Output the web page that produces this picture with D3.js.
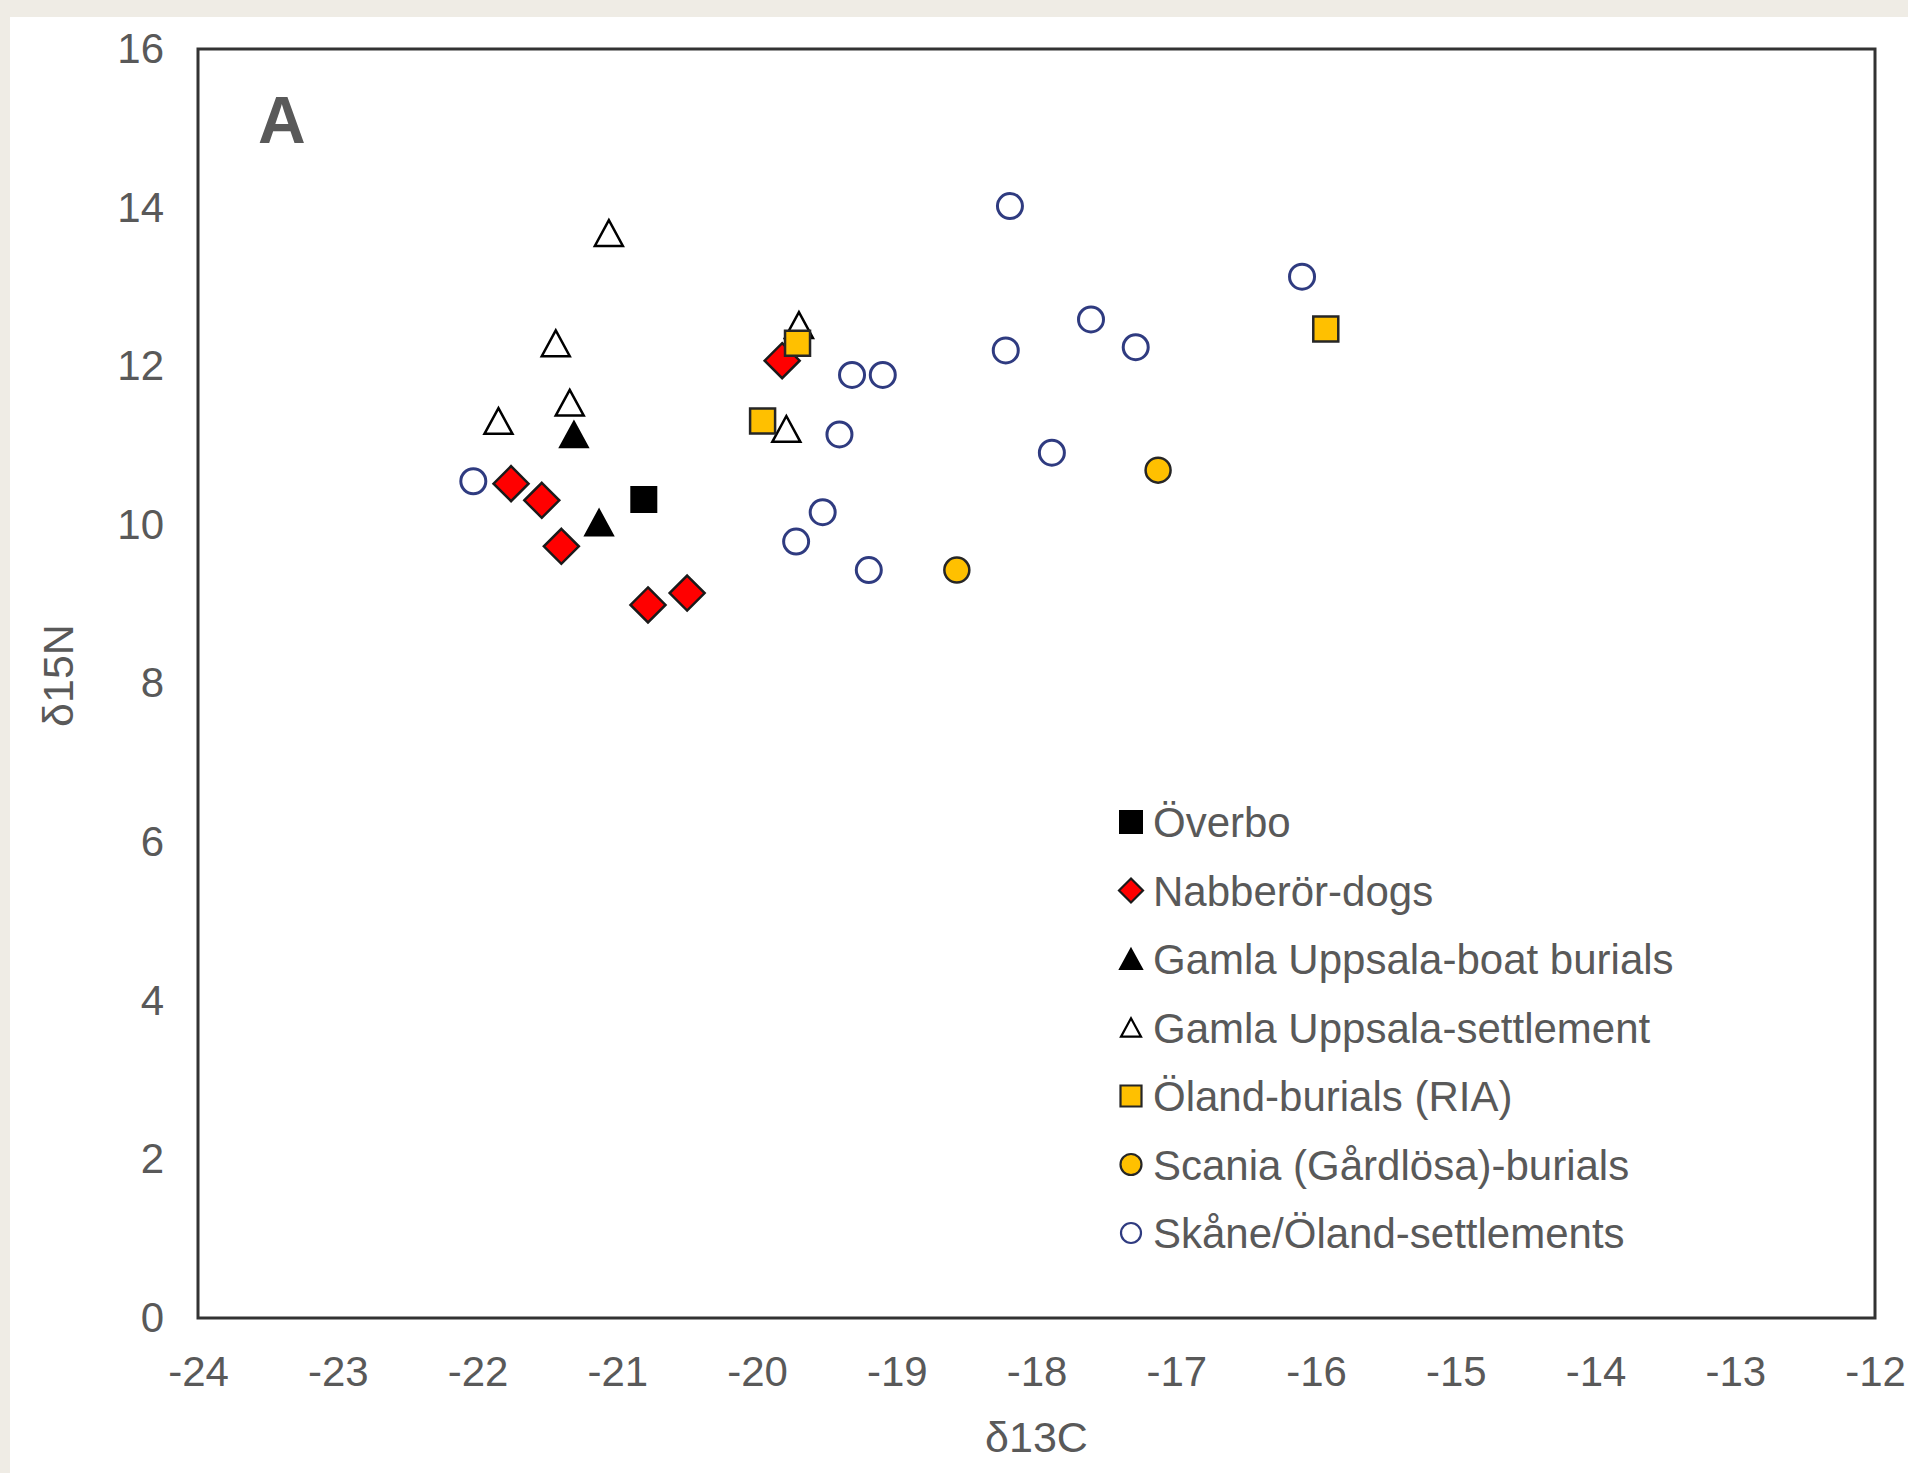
<!DOCTYPE html>
<html>
<head>
<meta charset="utf-8">
<script src="https://cdn.jsdelivr.net/npm/d3@7"></script>
<style>
    body { margin: 0; background: #efece5; }
    svg { display: block; }
    text { font-family: 'Liberation Sans', Arial, sans-serif; }
</style>
</head>
<body>
<svg id="chart"></svg>
<script>
'use strict';

// delta13C / delta15N pairs per group
const overbo = [[-20.81, 10.32]];
const nabberorDogs = [
    [-21.76, 10.52], [-21.54, 10.31], [-21.40, 9.73],
    [-20.78, 8.99], [-20.50, 9.14], [-19.82, 12.07]
];
const gamlaBoat = [[-21.31, 11.14], [-21.13, 10.03]];
const gamlaSettlement = [
    [-21.06, 13.68], [-21.44, 12.29], [-21.34, 11.54],
    [-21.85, 11.31], [-19.70, 12.52], [-19.79, 11.21]
];
const olandBurials = [[-19.71, 12.29], [-19.96, 11.31], [-15.93, 12.47]];
const scaniaBurials = [[-18.57, 9.43], [-17.13, 10.69]];
const skaneSettlements = [
    [-22.03, 10.55], [-18.19, 14.02], [-16.10, 13.13], [-17.61, 12.59],
    [-17.29, 12.24], [-18.22, 12.20], [-19.32, 11.89], [-19.10, 11.89],
    [-19.41, 11.14], [-17.89, 10.91], [-19.53, 10.16], [-19.72, 9.79],
    [-19.20, 9.43]
];

const seriesNames = [
    'Överbo',
    'Nabberör-dogs',
    'Gamla Uppsala-boat burials',
    'Gamla Uppsala-settlement',
    'Öland-burials (RIA)',
    'Scania (Gårdlösa)-burials',
    'Skåne/Öland-settlements'
];
const xTicks = [-24, -23, -22, -21, -20, -19, -18, -17, -16, -15, -14, -13, -12];
const yTicks = [0, 2, 4, 6, 8, 10, 12, 14, 16];

(function () {
    const width = 1908;
    const height = 1473;
    const plot = { left: 198, right: 1875, top: 49, bottom: 1318 };
    const textColor = '#595959';

    // custom marker shapes, size = bounding box width
    const square = {
        draw(ctx, s) {
            ctx.rect(-s / 2, -s / 2, s, s);
        }
    };
    const diamond = {
        draw(ctx, s) {
            ctx.moveTo(0, -s / 2);
            ctx.lineTo(s / 2, 0);
            ctx.lineTo(0, s / 2);
            ctx.lineTo(-s / 2, 0);
            ctx.closePath();
        }
    };
    const triangle = {
        draw(ctx, s) {
            const h = s * 0.92;
            ctx.moveTo(0, -h / 2);
            ctx.lineTo(s / 2, h / 2);
            ctx.lineTo(-s / 2, h / 2);
            ctx.closePath();
        }
    };
    const circle = {
        draw(ctx, s) {
            ctx.moveTo(s / 2, 0);
            ctx.arc(0, 0, s / 2, 0, Math.PI * 2);
        }
    };

    const series = [
        { data: overbo, type: square, size: 25, legendSize: 22, fill: '#000000', stroke: '#000000', sw: 2 },
        { data: nabberorDogs, type: diamond, size: 35, legendSize: 24, fill: '#ff0000', stroke: '#1a1a1a', sw: 2.5 },
        { data: gamlaBoat, type: triangle, size: 28, legendSize: 22, fill: '#000000', stroke: '#000000', sw: 2 },
        { data: gamlaSettlement, type: triangle, size: 28, legendSize: 20, fill: '#ffffff', stroke: '#000000', sw: 2.5 },
        { data: olandBurials, type: square, size: 25, legendSize: 21, fill: '#ffc000', stroke: '#262626', sw: 2.5 },
        { data: scaniaBurials, type: circle, size: 25, legendSize: 21, fill: '#ffc000', stroke: '#262626', sw: 2.5 },
        { data: skaneSettlements, type: circle, size: 25, legendSize: 20, fill: '#ffffff', stroke: '#2f3b80', sw: 3 }
    ];
    series.forEach((s, i) => { s.name = seriesNames[i]; });

    const svg = d3.select('#chart')
        .attr('width', width)
        .attr('height', height);

    svg.append('rect')
        .attr('x', 10)
        .attr('y', 17)
        .attr('width', width - 10)
        .attr('height', height - 17)
        .attr('fill', '#ffffff');

    const x = d3.scaleLinear()
        .domain([-24, -12])
        .range([plot.left, plot.right]);

    const y = d3.scaleLinear()
        .domain([0, 16])
        .range([plot.bottom, plot.top]);

    const xAxis = svg.append('g')
        .attr('transform', 'translate(0,' + plot.bottom + ')')
        .call(d3.axisBottom(x)
            .tickValues(xTicks)
            .tickSize(0)
            .tickPadding(38)
            .tickFormat(d => String(d)));

    const yAxis = svg.append('g')
        .attr('transform', 'translate(' + plot.left + ',0)')
        .call(d3.axisLeft(y)
            .tickValues(yTicks)
            .tickSize(0)
            .tickPadding(34)
            .tickFormat(d => String(d)));

    [xAxis, yAxis].forEach(g => {
        g.select('.domain').remove();
        g.selectAll('text')
            .attr('fill', textColor)
            .attr('font-size', '42px');
    });

    // plot frame
    svg.append('rect')
        .attr('x', plot.left)
        .attr('y', plot.top)
        .attr('width', plot.right - plot.left)
        .attr('height', plot.bottom - plot.top)
        .attr('fill', 'none')
        .attr('stroke', '#333333')
        .attr('stroke-width', 3);

    svg.append('text')
        .attr('x', (plot.left + plot.right) / 2)
        .attr('y', 1452)
        .attr('text-anchor', 'middle')
        .attr('fill', textColor)
        .attr('font-size', '43px')
        .text('δ13C');

    svg.append('text')
        .attr('transform', 'translate(73,' + ((plot.top + plot.bottom) / 2 - 8) + ') rotate(-90)')
        .attr('text-anchor', 'middle')
        .attr('fill', textColor)
        .attr('font-size', '43px')
        .text('δ15N');

    svg.append('text')
        .attr('x', 258)
        .attr('y', 143)
        .attr('fill', textColor)
        .attr('font-size', '66px')
        .attr('font-weight', 'bold')
        .text('A');

    const symbol = d3.symbol();

    series.forEach(s => {
        svg.append('g')
            .selectAll('path')
            .data(s.data)
            .enter().append('path')
            .attr('transform', d => 'translate(' + x(d[0]) + ',' + y(d[1]) + ')')
            .attr('d', symbol.type(s.type).size(s.size)())
            .attr('fill', s.fill)
            .attr('stroke', s.stroke)
            .attr('stroke-width', s.sw);
    });

    // legend
    const legend = svg.append('g')
        .attr('transform', 'translate(1131,822)');

    const rows = legend.selectAll('.row')
        .data(series)
        .enter().append('g')
        .attr('class', 'row')
        .attr('transform', (d, i) => 'translate(0,' + (i * 68.5) + ')');

    rows.append('path')
        .attr('d', d => symbol.type(d.type).size(d.legendSize)())
        .attr('fill', d => d.fill)
        .attr('stroke', d => d.stroke)
        .attr('stroke-width', d => Math.min(d.sw, 2.2));

    rows.append('text')
        .attr('x', 22)
        .attr('dy', '0.36em')
        .attr('fill', textColor)
        .attr('font-size', '42px')
        .text(d => d.name);
}());
</script>
</body>
</html>
